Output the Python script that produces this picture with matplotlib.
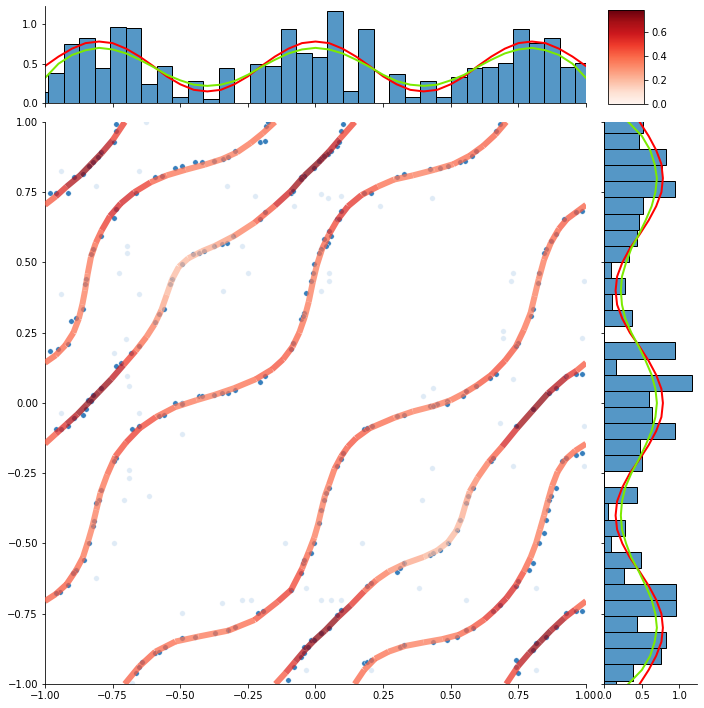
import matplotlib
matplotlib.use("Agg")
import matplotlib.pyplot as plt
import numpy as np
from matplotlib.collections import LineCollection
from matplotlib.colors import Normalize
from matplotlib.cm import ScalarMappable

# ---- marginal histograms (density), 36 equal bins starting at -1.045 ----
bin_start = -1.045
bin_width = 0.0573
x_hist = [0.14, 0.38, 0.75, 0.82, 0.44, 0.96, 0.95, 0.25, 0.47, 0.08, 0.28, 0.05,
          0.44, 0.0, 0.49, 0.47, 0.94, 0.64, 0.59, 1.17, 0.15, 0.94, 0.0, 0.37,
          0.08, 0.28, 0.08, 0.33, 0.44, 0.46, 0.51, 0.94, 0.76, 0.82, 0.46, 0.51]
y_hist = [0.15, 0.38, 0.75, 0.82, 0.44, 0.95, 0.95, 0.26, 0.49, 0.09, 0.28, 0.05,
          0.44, 0.0, 0.50, 0.47, 0.94, 0.64, 0.59, 1.17, 0.16, 0.94, 0.0, 0.37,
          0.10, 0.28, 0.09, 0.33, 0.44, 0.46, 0.51, 0.94, 0.77, 0.82, 0.46, 0.51]

# ---- marginal density curves, read every 0.05 on [-1, 1] ----
dens_grid = np.linspace(-1, 1, 41)
red_marginal = [0.47, 0.59, 0.69, 0.76, 0.78, 0.76, 0.69, 0.59, 0.47, 0.34, 0.24,
                0.17, 0.15, 0.17, 0.24, 0.34, 0.47, 0.59, 0.69, 0.76, 0.78,
                0.76, 0.69, 0.59, 0.47, 0.34, 0.24, 0.17, 0.15, 0.17, 0.24,
                0.34, 0.47, 0.59, 0.69, 0.76, 0.78, 0.76, 0.69, 0.59, 0.47]
green_marginal = [0.32, 0.50, 0.61, 0.67, 0.70, 0.68, 0.63, 0.55, 0.46, 0.36, 0.29,
                  0.235, 0.22, 0.235, 0.28, 0.36, 0.46, 0.55, 0.63, 0.68, 0.70,
                  0.68, 0.63, 0.55, 0.46, 0.36, 0.28, 0.235, 0.22, 0.235, 0.29,
                  0.36, 0.46, 0.55, 0.63, 0.68, 0.70, 0.67, 0.61, 0.50, 0.32]

# ---- curve pieces on the torus: x, y and density colour value ----
s1a_x = [-1.0, -0.96, -0.92, -0.87, -0.83, -0.79, -0.75, -0.705]
s1a_y = [0.705, 0.735, 0.77, 0.81, 0.85, 0.89, 0.935, 1.0]
s1a_c = [0.41, 0.46, 0.62, 0.70, 0.72, 0.68, 0.58, 0.41]

s1b_x = [-0.705, -0.652, -0.592, -0.518, -0.432, -0.322, -0.225, -0.139, -0.09, -0.05,
         -0.025, -0.005, 0.01, 0.022, 0.035, 0.05, 0.07, 0.095, 0.12, 0.15,
         0.2, 0.29, 0.36, 0.44, 0.5, 0.55, 0.6, 0.65, 0.7, 0.74,
         0.77, 0.795, 0.81, 0.825, 0.845, 0.87, 0.9, 0.93, 0.965, 1.0]
s1b_y = [-1.0, -0.938, -0.885, -0.849, -0.831, -0.810, -0.772, -0.707, -0.665, -0.59,
         -0.53, -0.48, -0.43, -0.38, -0.33, -0.29, -0.235, -0.19, -0.155, -0.125,
         -0.09, -0.053, -0.03, -0.01, 0.01, 0.035, 0.065, 0.1, 0.15, 0.2,
         0.26, 0.32, 0.38, 0.44, 0.51, 0.57, 0.62, 0.655, 0.68, 0.705]
s1b_c = [0.41, 0.43, 0.41, 0.37, 0.35, 0.37, 0.41, 0.48, 0.52, 0.43,
         0.39, 0.36, 0.35, 0.35, 0.36, 0.37, 0.40, 0.42, 0.45, 0.45,
         0.42, 0.37, 0.35, 0.35, 0.36, 0.39, 0.42, 0.46, 0.46, 0.42,
         0.39, 0.36, 0.35, 0.35, 0.37, 0.40, 0.42, 0.44, 0.42, 0.41]

s2a_x = [0.705, 0.75, 0.79, 0.83, 0.87, 0.92, 0.96, 1.0]
s2a_y = [-1.0, -0.935, -0.89, -0.85, -0.81, -0.765, -0.735, -0.705]
s2a_c = [0.41, 0.58, 0.68, 0.72, 0.70, 0.62, 0.46, 0.41]

s2b_x = [-1.0, -0.96, -0.92, -0.885, -0.86, -0.84, -0.825, -0.81, -0.795, -0.77,
         -0.74, -0.70, -0.65, -0.59, -0.52, -0.44, -0.37, -0.30, -0.22, -0.16,
         -0.12, -0.085, -0.06, -0.04, -0.025, -0.01, 0.005, 0.025, 0.05, 0.08,
         0.12, 0.17, 0.23, 0.29, 0.36, 0.44, 0.51, 0.57, 0.62, 0.665, 0.705]
s2b_y = [-0.705, -0.68, -0.645, -0.595, -0.55, -0.49, -0.44, -0.38, -0.32, -0.255,
         -0.19, -0.14, -0.09, -0.05, -0.015, 0.01, 0.03, 0.053, 0.085, 0.12,
         0.155, 0.2, 0.25, 0.305, 0.36, 0.43, 0.49, 0.55, 0.6, 0.65,
         0.7, 0.74, 0.77, 0.795, 0.81, 0.83, 0.85, 0.88, 0.915, 0.955, 1.0]
s2b_c = [0.41, 0.43, 0.44, 0.41, 0.39, 0.35, 0.35, 0.35, 0.36, 0.39,
         0.43, 0.48, 0.52, 0.43, 0.38, 0.35, 0.35, 0.36, 0.40, 0.45,
         0.45, 0.42, 0.39, 0.37, 0.35, 0.35, 0.35, 0.39, 0.43, 0.52,
         0.55, 0.48, 0.40, 0.37, 0.35, 0.35, 0.38, 0.40, 0.42, 0.42, 0.41]

s3a_x = [-1.0, -0.96, -0.925, -0.895, -0.875, -0.862, -0.852, -0.842, -0.83, -0.812,
         -0.79, -0.76, -0.72, -0.67, -0.61, -0.55, -0.48, -0.41, -0.345, -0.29,
         -0.24, -0.195, -0.15]
s3a_y = [0.143, 0.17, 0.205, 0.25, 0.3, 0.35, 0.4, 0.46, 0.52, 0.57,
         0.615, 0.665, 0.71, 0.75, 0.785, 0.81, 0.83, 0.848, 0.868, 0.892,
         0.925, 0.96, 1.0]
s3a_c = [0.40, 0.41, 0.40, 0.38, 0.36, 0.35, 0.35, 0.35, 0.38, 0.41,
         0.45, 0.55, 0.58, 0.55, 0.45, 0.39, 0.35, 0.35, 0.35, 0.36,
         0.38, 0.39, 0.40]

s3b_x = [-0.148, -0.11, -0.075, -0.04, -0.005, 0.035, 0.08, 0.13, 0.18, 0.225,
         0.27, 0.33, 0.40, 0.45, 0.49, 0.52, 0.54, 0.555, 0.57, 0.60,
         0.64, 0.69, 0.745, 0.80, 0.86, 0.925, 0.965, 1.0]
s3b_y = [-1.0, -0.96, -0.92, -0.88, -0.845, -0.81, -0.765, -0.72, -0.67, -0.63,
         -0.60, -0.572, -0.548, -0.525, -0.495, -0.455, -0.41, -0.36, -0.315, -0.265,
         -0.21, -0.155, -0.09, -0.03, 0.035, 0.09, 0.115, 0.143]
s3b_c = [0.40, 0.46, 0.60, 0.68, 0.72, 0.72, 0.70, 0.58, 0.45, 0.38,
         0.33, 0.27, 0.22, 0.20, 0.20, 0.21, 0.22, 0.24, 0.29, 0.34,
         0.39, 0.46, 0.66, 0.72, 0.70, 0.58, 0.46, 0.40]

s4a_x = [-1.0, -0.96, -0.92, -0.88, -0.845, -0.80, -0.755, -0.71, -0.665, -0.625,
         -0.595, -0.57, -0.55, -0.53, -0.505, -0.47, -0.42, -0.37, -0.30, -0.225,
         -0.15, -0.09, -0.04, 0.01, 0.05, 0.09, 0.145]
s4a_y = [-0.145, -0.11, -0.075, -0.04, -0.005, 0.04, 0.085, 0.135, 0.185, 0.235,
         0.28, 0.33, 0.385, 0.44, 0.485, 0.515, 0.54, 0.56, 0.595, 0.642,
         0.702, 0.755, 0.81, 0.855, 0.895, 0.94, 1.0]
s4a_c = [0.40, 0.46, 0.60, 0.68, 0.72, 0.72, 0.68, 0.55, 0.42, 0.37,
         0.33, 0.27, 0.22, 0.20, 0.20, 0.21, 0.22, 0.24, 0.30, 0.38,
         0.48, 0.66, 0.72, 0.72, 0.66, 0.56, 0.40]

s4b_x = [0.145, 0.18, 0.22, 0.27, 0.33, 0.40, 0.47, 0.53, 0.58, 0.625,
         0.665, 0.705, 0.74, 0.77, 0.795, 0.815, 0.83, 0.845, 0.86, 0.875,
         0.895, 0.925, 0.96, 1.0]
s4b_y = [-1.0, -0.95, -0.91, -0.885, -0.865, -0.852, -0.84, -0.825, -0.80, -0.77,
         -0.735, -0.695, -0.65, -0.60, -0.55, -0.50, -0.45, -0.40, -0.345, -0.295,
         -0.245, -0.2, -0.17, -0.145]
s4b_c = [0.40, 0.40, 0.39, 0.37, 0.35, 0.35, 0.35, 0.39, 0.42, 0.48,
         0.55, 0.58, 0.52, 0.43, 0.39, 0.36, 0.35, 0.35, 0.35, 0.37,
         0.39, 0.40, 0.40, 0.40]

# ---- sample points lying on the curves ----
curve_points = np.array([
    (-0.983, 0.749), (-0.958, 0.749), (-0.916, 0.749), (-0.891, 0.803), (-0.861, 0.815),
    (-0.836, 0.844), (-0.824, 0.856), (-0.805, 0.874), (-0.793, 0.892), (-0.738, 0.993),
    (-0.738, 0.969), (-0.744, 0.928),
    (-0.665, 0.749), (-0.738, 0.690), (-0.744, 0.660), (-0.793, 0.595), (-0.824, 0.547),
    (-0.830, 0.529), (-0.848, 0.440), (-0.851, 0.422), (-0.861, 0.333), (-0.885, 0.304),
    (-0.903, 0.292), (-0.916, 0.209), (-0.952, 0.191), (-0.983, 0.185),
    (-0.592, 0.803), (-0.567, 0.809), (-0.518, 0.838), (-0.494, 0.844), (-0.445, 0.856),
    (-0.420, 0.858), (-0.377, 0.862), (-0.341, 0.868), (-0.322, 0.874), (-0.298, 0.898),
    (-0.206, 0.928), (-0.188, 0.933), (-0.182, 0.987), (-0.175, 0.999),
    (-0.842, 0.012), (-0.824, 0.030), (-0.793, 0.054), (-0.738, 0.131), (-0.720, 0.143),
    (-0.683, 0.179), (-0.652, 0.202), (-0.592, 0.290), (-0.579, 0.316), (-0.561, 0.333),
    (-0.530, 0.440), (-0.537, 0.422), (-0.494, 0.494), (-0.451, 0.529), (-0.432, 0.535),
    (-0.414, 0.541), (-0.377, 0.559), (-0.347, 0.565), (-0.328, 0.571), (-0.304, 0.595),
    (-0.206, 0.654), (-0.188, 0.678), (-0.090, 0.749), (-0.053, 0.803), (-0.041, 0.809),
    (-0.004, 0.838), (0.020, 0.868), (0.045, 0.886), (0.081, 0.916),
    (-0.518, 0.001), (-0.494, 0.001), (-0.432, 0.024), (-0.420, 0.024), (-0.377, 0.030),
    (-0.347, 0.036), (-0.322, 0.036), (-0.298, 0.048), (-0.206, 0.075), (-0.188, 0.096),
    (-0.090, 0.191), (-0.053, 0.300), (-0.041, 0.320), (0.020, 0.547), (0.032, 0.583),
    (0.051, 0.612), (0.081, 0.654),
    (0.100, 0.993), (0.094, 0.969), (0.087, 0.928), (0.057, 0.898), (0.032, 0.880),
    (0.014, 0.862), (-0.053, 0.797), (-0.084, 0.755),
    (0.094, 0.684), (0.087, 0.654), (0.057, 0.595), (0.045, 0.571), (0.039, 0.559),
    (0.014, 0.535), (-0.004, 0.494), (-0.010, 0.464), (-0.017, 0.434), (-0.035, 0.393),
    (-0.047, 0.309), (-0.084, 0.215),
    (0.179, 0.749), (0.204, 0.749), (0.302, 0.803), (0.326, 0.815), (0.424, 0.832),
    (0.461, 0.838), (0.491, 0.844), (0.534, 0.856), (0.552, 0.862), (0.577, 0.880),
    (0.595, 0.898), (0.669, 0.969), (0.681, 0.993),
    (0.919, 0.654), (0.962, 0.678), (0.986, 0.684), (0.889, 0.601), (0.870, 0.577),
    (0.852, 0.547), (0.846, 0.535), (0.828, 0.464), (0.821, 0.428), (0.803, 0.333),
    (0.797, 0.309), (0.748, 0.215), (0.742, 0.202), (0.669, 0.102), (0.644, 0.090),
    (0.595, 0.060), (0.558, 0.042), (0.546, 0.024), (0.485, 0.006), (0.448, -0.005),
    (0.424, -0.011),
    (0.864, 0.036), (0.889, 0.054), (0.925, 0.096), (0.962, 0.102), (0.986, 0.102),
    (-0.053, -0.605), (-0.047, -0.570), (-0.041, -0.558), (-0.017, -0.534), (-0.004, -0.498),
    (0.014, -0.427), (0.020, -0.380), (0.032, -0.344), (0.039, -0.320), (0.051, -0.302),
    (0.081, -0.225), (0.094, -0.201), (0.100, -0.178), (0.179, -0.094), (0.192, -0.088),
    (0.210, -0.083), (0.302, -0.047), (0.326, -0.041), (0.436, -0.011), (0.485, -0.002),
    (-0.053, -0.903), (-0.041, -0.867), (-0.017, -0.843), (0.020, -0.819), (0.051, -0.802),
    (0.081, -0.754), (0.094, -0.736), (0.192, -0.653), (0.204, -0.641), (0.302, -0.600),
    (0.314, -0.588), (0.326, -0.570), (0.424, -0.540), (0.436, -0.534), (0.461, -0.522),
    (0.491, -0.498), (0.522, -0.451), (0.534, -0.415), (0.558, -0.356), (0.564, -0.332),
    (0.583, -0.302), (0.650, -0.207), (0.656, -0.195), (0.742, -0.083), (0.803, -0.023),
    (0.179, -0.926), (0.192, -0.920), (0.204, -0.914), (0.314, -0.867), (0.326, -0.861),
    (0.436, -0.849), (0.485, -0.843), (0.522, -0.831), (0.558, -0.807), (0.583, -0.802),
    (0.656, -0.742), (0.681, -0.718), (0.742, -0.653), (0.748, -0.635), (0.791, -0.594),
    (0.803, -0.570), (0.828, -0.498), (0.846, -0.463), (0.852, -0.415), (0.858, -0.380),
    (0.864, -0.344), (0.870, -0.332), (0.889, -0.302), (0.913, -0.207), (0.925, -0.195),
    (0.962, -0.184), (0.986, -0.178),
    (0.742, -0.914), (0.742, -0.938), (0.748, -0.962), (0.803, -0.879), (0.815, -0.855),
    (0.852, -0.831), (0.889, -0.796), (0.925, -0.748), (0.962, -0.742), (0.986, -0.742),
    (-0.958, -0.094), (-0.941, -0.094), (-0.916, -0.083), (-0.891, -0.053), (-0.861, -0.041),
    (-0.848, -0.023), (-0.830, 0.006),
    (-0.677, -0.094), (-0.652, -0.083), (-0.579, -0.047), (-0.561, -0.041), (-0.494, -0.005),
    (-0.738, -0.195), (-0.744, -0.207), (-0.793, -0.308), (-0.799, -0.344), (-0.812, -0.356),
    (-0.818, -0.421), (-0.824, -0.439), (-0.836, -0.498), (-0.854, -0.558), (-0.885, -0.594),
    (-0.897, -0.605), (-0.916, -0.647), (-0.946, -0.671), (-0.958, -0.677),
    (-0.641, -0.920), (-0.652, -0.938), (-0.665, -0.962), (-0.592, -0.891), (-0.579, -0.885),
    (-0.555, -0.867), (-0.494, -0.837), (-0.445, -0.831), (-0.371, -0.819), (-0.322, -0.807),
    (-0.298, -0.796), (-0.212, -0.748), (-0.194, -0.742), (-0.090, -0.665),
    (-0.102, -0.986), (-0.078, -0.938), (-0.041, -0.891), (-0.029, -0.867), (-0.004, -0.843),
])

# ---- faint points away from the curves ----
noise_points = np.array([
    (-0.941, 0.826), (-0.652, 0.826), (-0.941, 0.387), (-0.652, 0.387), (-0.695, 0.096),
    (-0.689, 0.060), (-0.225, 0.737), (-0.078, 0.702), (-0.273, 0.559), (-0.249, 0.464),
    (-0.341, 0.399), (0.045, 0.731), (0.051, 0.464), (0.051, 0.434), (-0.702, 0.226),
    (-0.726, 0.464), (-0.695, 0.559), (-0.695, 0.535), (-0.812, 0.773), (-0.628, 0.999),
    (-0.328, 0.773), (-0.744, 0.179), (0.020, 0.743), (0.094, 0.737), (0.240, 0.702),
    (0.430, 0.731), (0.020, 0.399), (0.693, 0.256), (0.693, 0.232), (0.730, 0.464),
    (0.724, 0.434), (0.730, 0.084), (0.436, 0.054), (0.399, 0.024), (0.993, 0.434),
    (0.986, 0.232), (-0.035, -0.659), (-0.035, -0.950), (0.204, -0.950), (0.381, -0.659),
    (0.681, -0.071), (0.730, -0.225), (0.815, -0.950), (0.815, -0.659), (0.993, -0.083),
    (0.993, -0.225), (0.173, -0.498), (0.394, -0.344), (0.094, -0.700), (0.020, -0.700),
    (0.057, -0.700), (0.558, -0.700), (0.430, -0.231), (-0.941, -0.035), (-0.652, -0.035),
    (-0.689, -0.237), (-0.689, -0.267), (-0.616, -0.332), (-0.708, -0.344), (-0.744, -0.498),
    (-0.812, -0.623), (-0.494, -0.112), (-0.114, -0.498), (-0.273, -0.700), (-0.237, -0.700),
    (-0.347, -0.712), (-0.494, -0.748), (-0.677, -0.998),
])

pieces = [
    (s1a_x, s1a_y, s1a_c), (s1b_x, s1b_y, s1b_c),
    (s2a_x, s2a_y, s2a_c), (s2b_x, s2b_y, s2b_c),
    (s3a_x, s3a_y, s3a_c), (s3b_x, s3b_y, s3b_c),
    (s4a_x, s4a_y, s4a_c), (s4b_x, s4b_y, s4b_c),
]

norm = Normalize(vmin=0.0, vmax=0.78)
bar_color = "#5597c6"

fig = plt.figure(figsize=(704 / 72, 708 / 72), dpi=72)
ax = fig.add_axes([0.0639, 0.0339, 0.7685, 0.7938])
ax_top = fig.add_axes([0.0639, 0.8541, 0.7685, 0.1374], sharex=ax)
ax_right = fig.add_axes([0.8584, 0.0339, 0.1311, 0.7938], sharey=ax)
cax = fig.add_axes([0.8641, 0.8531, 0.0507, 0.1328])

# main panel: points first, then the density-coloured curves on top
ax.scatter(noise_points[:, 0], noise_points[:, 1], s=30, color="#c6dbef",
           alpha=0.55, edgecolors="white", linewidths=0.5, zorder=1)
ax.scatter(curve_points[:, 0], curve_points[:, 1], s=30, color="#2171b5",
           alpha=0.9, edgecolors="white", linewidths=0.5, zorder=2)

for xs, ys, cs in pieces:
    pts = np.column_stack([xs, ys])
    segs = np.stack([pts[:-1], pts[1:]], axis=1)
    cs = np.asarray(cs)
    lc = LineCollection(segs, cmap="Reds", norm=norm, linewidths=6,
                        alpha=0.75, capstyle="butt", zorder=3)
    lc.set_array((cs[:-1] + cs[1:]) / 2)
    ax.add_collection(lc)

ax.set_xticks(np.arange(-1, 1.01, 0.25))
ax.set_yticks(np.arange(-1, 1.01, 0.25))
ax.spines["top"].set_visible(False)
ax.spines["right"].set_visible(False)

# top marginal
edges = bin_start + bin_width * np.arange(len(x_hist) + 1)
ax_top.bar(edges[:-1], x_hist, width=bin_width, align="edge",
           color=bar_color, edgecolor="black", linewidth=1)
ax_top.plot(dens_grid, red_marginal, color="red", lw=2)
ax_top.plot(dens_grid, green_marginal, color="#7cea00", lw=2)
ax_top.set_yticks([0.0, 0.5, 1.0])
ax_top.tick_params(axis="x", labelbottom=False)
ax_top.spines["top"].set_visible(False)
ax_top.spines["right"].set_visible(False)

# right marginal
ax_right.barh(edges[:-1], y_hist, height=bin_width, align="edge",
              color=bar_color, edgecolor="black", linewidth=1)
ax_right.plot(red_marginal, dens_grid, color="red", lw=2)
ax_right.plot(green_marginal, dens_grid, color="#7cea00", lw=2)
ax_right.set_xticks([0.0, 0.5, 1.0])
ax_right.tick_params(axis="y", labelleft=False)
ax_right.spines["top"].set_visible(False)
ax_right.spines["right"].set_visible(False)

ax.set_xlim(-1, 1)
ax.set_ylim(-1, 1)

# colour bar
sm = ScalarMappable(norm=norm, cmap="Reds")
cb = fig.colorbar(sm, cax=cax)
cb.set_ticks([0.0, 0.2, 0.4, 0.6])

fig.savefig("out.png", dpi=72)
